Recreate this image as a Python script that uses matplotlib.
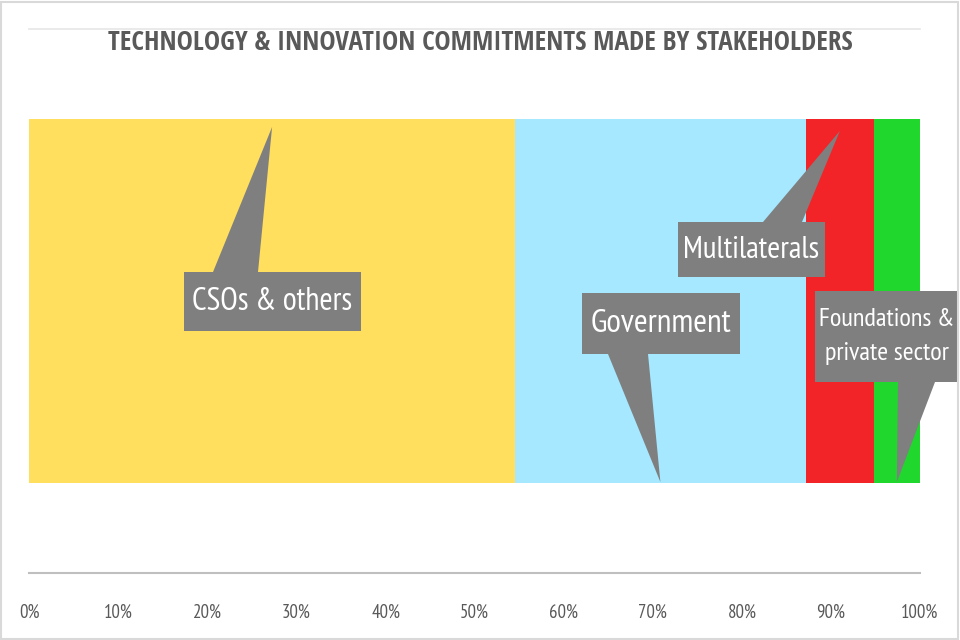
import matplotlib
matplotlib.use("Agg")
import matplotlib.pyplot as plt
from matplotlib.patches import Polygon, Rectangle

# Share of technology & innovation commitments, by stakeholder (%)
stakeholders = ["CSOs & others", "Government", "Multilaterals",
                "Foundations &\nprivate sector"]
shares = [54.5, 32.7, 7.6, 5.2]
colors = ["#FFDF5D", "#A5E8FF", "#F22428", "#20D72D"]
tick_values = [0, 10, 20, 30, 40, 50, 60, 70, 80, 90, 100]
tick_labels = [f"{v}%" for v in tick_values]
title = "TECHNOLOGY & INNOVATION COMMITMENTS MADE BY STAKEHOLDERS"

TITLE_FONT = ["Open Sans Condensed", "DejaVu Sans"]
NARROW = ["PT Sans Narrow", "DejaVu Sans"]
W, H = 960, 640

fig = plt.figure(figsize=(9.6, 6.4), dpi=100)
# axes span 0%..100% horizontally, faint top line to grey baseline vertically
ax_l, ax_r, ax_t, ax_b = 29.4, 920.0, 29.0, 573.0
ax = fig.add_axes([ax_l / W, 1 - ax_b / H, (ax_r - ax_l) / W, (ax_b - ax_t) / H])

bar_h = (483 - 119) / (ax_b - ax_t)
left = 0.0
mids = []
for name, val, col in zip(stakeholders, shares, colors):
    ax.barh(0, val, left=left, height=bar_h, color=col, linewidth=0)
    mids.append(left + val / 2)
    left += val

ax.set_xlim(0, 100)
ax.set_ylim(-0.5, 0.5)
ax.set_yticks([])
ax.set_xticks(tick_values)
ax.set_xticklabels(tick_labels, family=NARROW, fontsize=13.5, color="#595959")
ax.tick_params(axis="x", length=0, pad=22)
for s in ("left", "right"):
    ax.spines[s].set_visible(False)
ax.spines["bottom"].set_color("#BFBFBF")
ax.spines["bottom"].set_linewidth(1.5)
ax.spines["top"].set_color("#E6E6E6")
ax.spines["top"].set_linewidth(1.2)

fig.text(0.5, 1 - 42 / H, title, ha="center", va="center", family=TITLE_FONT,
         fontsize=19.5, fontweight="bold", color="#595959")


def px2data(px, py):
    x = (px - ax_l) / (ax_r - ax_l) * 100
    y = 0.5 - (py - ax_t) / (ax_b - ax_t)
    return x, y


bar_top = bar_h / 2
bar_bot = -bar_h / 2


def callout(text, box, base, tip_x, tip_y, fontsize, spacing=1.3):
    x0, x1, y0, y1 = box
    b0, b1 = base
    (dx0, dy_top) = px2data(x0, y0)
    (dx1, dy_bot) = px2data(x1, y1)
    db0, _ = px2data(b0, y0)
    db1, _ = px2data(b1, y0)
    if tip_y > dy_top:  # pointer leaves from top edge
        pts = [(dx0, dy_bot), (dx0, dy_top), (db0, dy_top), (tip_x, tip_y),
               (db1, dy_top), (dx1, dy_top), (dx1, dy_bot)]
    else:  # pointer leaves from bottom edge
        pts = [(dx0, dy_top), (dx1, dy_top), (dx1, dy_bot), (db1, dy_bot),
               (tip_x, tip_y), (db0, dy_bot), (dx0, dy_bot)]
    ax.add_patch(Polygon(pts, closed=True, facecolor="#7F7F7F",
                         edgecolor="none", clip_on=False, zorder=4))
    ax.text((dx0 + dx1) / 2, (dy_top + dy_bot) / 2, text, ha="center",
            va="center", color="white", family=NARROW, fontsize=fontsize,
            linespacing=spacing, zorder=5, clip_on=False)


tip_top = bar_top - 8 / (ax_b - ax_t)
tip_bot = bar_bot + 1 / (ax_b - ax_t)
callout(stakeholders[0], (184, 361, 272, 331), (213, 258), mids[0], tip_top, 23)
callout(stakeholders[1], (582, 740, 293, 354), (608, 648), mids[1], tip_bot, 24)
callout(stakeholders[2], (678, 825, 222, 277), (763, 802), mids[2], tip_top - 4 / 544, 22.5)
callout(stakeholders[3], (815, 959, 291, 382), (898, 935), mids[3], tip_bot, 19, 1.6)

# light frame around the chart
fig.patches.append(Rectangle((1 / W, 1 / H), 1 - 3 / W, 1 - 3 / H,
                             transform=fig.transFigure, fill=False,
                             edgecolor="#D9D9D9", linewidth=1.5))

fig.savefig("out.png", dpi=100, facecolor="white")
